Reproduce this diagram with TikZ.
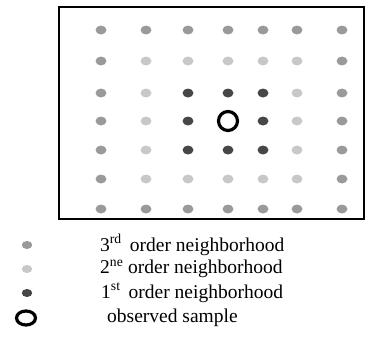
\documentclass[tikz,border=0pt]{standalone}
\usepackage{fontspec}
\setmainfont{Liberation Serif}
\usetikzlibrary{shapes.geometric}
\definecolor{ordthree}{HTML}{9A9A9A}
\definecolor{ordtwo}{HTML}{C8C8C8}
\definecolor{ordone}{HTML}{474747}
\tikzset{
  dotbase/.style={ellipse,inner sep=0pt,minimum width=11pt,minimum height=9pt,draw=none},
  dthree/.style={dotbase,fill=ordthree},
  dtwo/.style={dotbase,fill=ordtwo},
  done/.style={dotbase,fill=ordone},
  obs/.style={circle,draw=black,line width=3.2pt,minimum size=19pt,inner sep=0pt},
  legtext/.style={anchor=west,inner sep=0pt,font=\fontsize{19.5}{22}\selectfont},
  frame/.style={draw=black,line width=2pt}
}
\begin{document}
\begin{tikzpicture}[x=1pt,y=-1pt]
\useasboundingbox (0,0) rectangle (365,343);
\draw[frame] (59,7) rectangle (364,219);
\foreach \c/\x in {1/101,2/146,3/188,4/228,5/263,6/297,7/342}{
  \foreach \r/\y in {1/30,2/61,3/93,4/121,5/150,6/179,7/209}{
    \pgfmathtruncatemacro{\ring}{max(abs(\c-4),abs(\r-4))}
    \ifnum\ring=3 \node[dthree] (d\c\r) at (\x,\y) {};\fi
    \ifnum\ring=2 \node[dtwo] (d\c\r) at (\x,\y) {};\fi
    \ifnum\ring=1 \node[done] (d\c\r) at (\x,\y) {};\fi
    \ifnum\ring=0 \node[obs] (d\c\r) at (\x,\y) {};\fi
  }
}
\node[dthree,minimum width=10.5pt,minimum height=8pt] (l3) at (27,245) {};
\node[dtwo,minimum width=10.5pt,minimum height=8pt] (l2) at (27,269) {};
\node[done,minimum width=10.5pt,minimum height=8pt] (l1) at (27,293) {};
\node[ellipse,draw=black,line width=3.2pt,minimum width=19pt,minimum height=14pt,inner sep=0pt] (l0) at (26,318) {};
\node[legtext] (t3) at (100,245) {3\textsuperscript{rd}\, order neighborhood};
\node[legtext] (t2) at (100,269) {2\textsuperscript{ne} order neighborhood};
\node[legtext] (t1) at (101,293) {1\textsuperscript{st}\, order neighborhood};
\node[legtext] (t0) at (107,318) {observed sample};
\end{tikzpicture}
\end{document}
